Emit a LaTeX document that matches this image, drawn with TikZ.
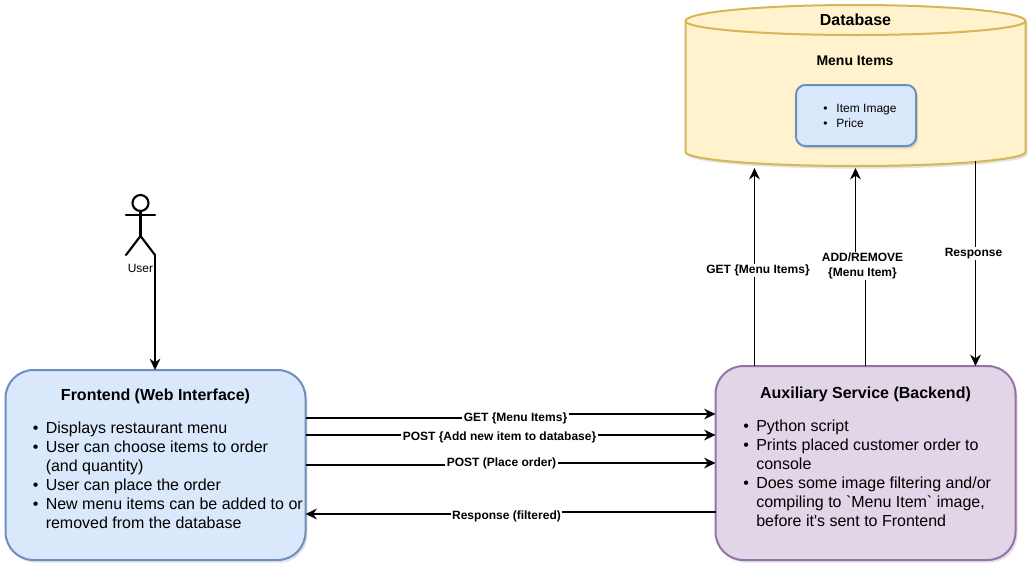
\documentclass[tikz,border=0pt]{standalone}
\usepackage{fontspec}
\setmainfont{Liberation Sans}
\usetikzlibrary{arrows.meta,calc,shadows}

\definecolor{blueFill}{HTML}{DAE8FC}
\definecolor{blueLine}{HTML}{6C8EBF}
\definecolor{purpleFill}{HTML}{E1D5E7}
\definecolor{purpleLine}{HTML}{9673A6}
\definecolor{yellowFill}{HTML}{FFF2CC}
\definecolor{yellowLine}{HTML}{D6B656}

\newcommand{\bul}{\makebox[9.75pt][l]{\textbullet}}
\newcommand{\nobul}{\hspace*{9.75pt}}

\tikzset{
	softshadow/.style={drop shadow={opacity=0.22,shadow xshift=1.5pt,shadow yshift=-2pt}},
	round/.style={rounded corners=21pt,minimum width=225pt,draw,line width=1.5pt,outer sep=0pt,inner sep=0pt,softshadow},
	title/.style={font=\fontsize{12}{14.25}\selectfont\bfseries,inner sep=0pt},
	body/.style={font=\fontsize{12}{14.25}\selectfont,align=left,anchor=west,inner sep=0pt},
	small/.style={font=\fontsize{9}{11.25}\selectfont,align=left,inner sep=0pt},
	flow/.style={-{Stealth[length=8.5pt,width=8pt]},line width=1.4pt},
	flowlabel/.style={font=\fontsize{9}{11.25}\selectfont\bfseries,align=center,fill=white,inner sep=1pt},
	hidden/.style={inner sep=0pt,outer sep=0pt},
	stick/.style={line width=1.6pt,line cap=round}
}

\begin{document}
\begin{tikzpicture}[x=0.75pt,y=-0.75pt]
	\useasboundingbox (0,0) rectangle (1032,569);

	% boxes
	\node[round,fill=blueFill,draw=blueLine,minimum height=142.5pt] (frontend) at (155.5,465) {};
	\node[round,fill=purpleFill,draw=purpleLine,minimum height=145.5pt] (backend) [right of=frontend, node distance=532.5pt, yshift=1.5pt] {};

	\node[title] (fronttitle) at ($(frontend.north)+(0,26)$) {Frontend (Web Interface)};
	\node[body] (frontlist) at (32.5,475) {\bul Displays restaurant menu\\ \bul User can choose items to order\\ \nobul(and quantity)\\ \bul User can place the order\\ \bul New menu items can be added to or\\ \nobul removed from the database};

	\node[title] (backtitle) at ($(backend.north)+(0,28)$) {Auxiliary Service (Backend)};
	\node[body] (backlist) at (743,473.5) {\bul Python script\\ \bul Prints placed customer order to\\ \nobul console\\ \bul Does some image filtering and/or\\ \nobul compiling to \textasciigrave Menu Item\textasciigrave\ image,\\ \nobul before it\textquotesingle s sent to Frontend};

	% database drawn round an empty node
	\node[hidden,minimum width=255pt,minimum height=120.75pt] (database) at (855.5,85.5) {};
	\draw[fill=yellowFill,draw=yellowLine,line width=1.5pt,softshadow]
		($(database.north west)+(0,16)$) arc[start angle=180,end angle=0,x radius=127.5pt,y radius=12pt]
		-- ($(database.south east)+(0,-14)$) arc[start angle=0,end angle=-180,x radius=127.5pt,y radius=10.5pt]
		-- cycle;
	\draw[draw=yellowLine,line width=1.5pt]
		($(database.north west)+(0,16)$) arc[start angle=180,end angle=360,x radius=127.5pt,y radius=10.5pt];
	\node[title] (dbtitle) at ($(database.north)+(0,15)$) {Database};
	\node[title,font=\fontsize{10.5}{12}\selectfont\bfseries] (menutitle) at (855,60.5) {Menu Items};
	\node[round,rounded corners=7pt,fill=blueFill,draw=blueLine,minimum width=90pt,minimum height=45.75pt,drop shadow={opacity=0}] (itembox) at (856,115.5) {};
	\node[small] (itemlist) at (860,115.5) {\bul Item Image\\ \bul Price};

	% user
	\node[hidden,minimum width=21.75pt,minimum height=45pt] (user) at (140.5,225) {};
	\draw[stick] ($(user.north)+(0,16)$) -- ($(user.north)+(0,41)$);
	\draw[stick] ($(user.north west)+(0,20)$) -- ($(user.north east)+(0,20)$);
	\draw[stick] (user.south west) -- ($(user.north)+(0,41)$) -- (user.south east);
	\draw[line width=1.6pt,fill=white] ($(user.north)+(0,8)$) circle[radius=6pt];
	\node[small] (userlabel) at ($(user.south)+(0,13)$) {User};

	% connectors
	\draw[flow] (user.south east) -- (user.south east |- frontend.north);

	\draw[flow] ($(frontend.east)+(0,-47)$) -| (515.5,416) |- ($(backend.west)+(0,-49)$)
		node[flowlabel] at (515.5,418) {GET \{Menu Items\}};
	\draw[flow] ($(frontend.east)+(0,-30)$) -- ($(backend.west)+(0,-28)$)
		node[flowlabel] at (499.5,437) {POST \{Add new item to database\}};
	\draw[flow] (frontend.east) -| (501.5,464) |- (backend.west)
		node[flowlabel] at (501.5,463.5) {POST (Place order)};
	\draw[flow] ($(backend.west)+(0,49)$) -| (506.5,513) |- ($(frontend.east)+(0,49)$)
		node[flowlabel] at (506.5,516) {Response (filtered)};

	\coordinate (getfoot) at ($(backend.north west)+(39,0)$);
	\draw[flow,shorten >=1.5pt] (getfoot) -- (getfoot |- database.south)
		node[flowlabel] at (758,270.5) {GET \{Menu Items\}};
	\draw[flow,shorten >=1.5pt] (backend.north) |- (860,265) -| (database.south)
		node[flowlabel] at (862.5,266) {ADD/REMOVE\\\{Menu Item\}};
	\coordinate (respfoot) at ($(backend.north east)+(-40,0)$);
	\draw[flow] ($(respfoot |- database.south)+(0,-5)$) -- (respfoot)
		node[flowlabel] at (973.5,253.5) {Response};
\end{tikzpicture}
\end{document}
